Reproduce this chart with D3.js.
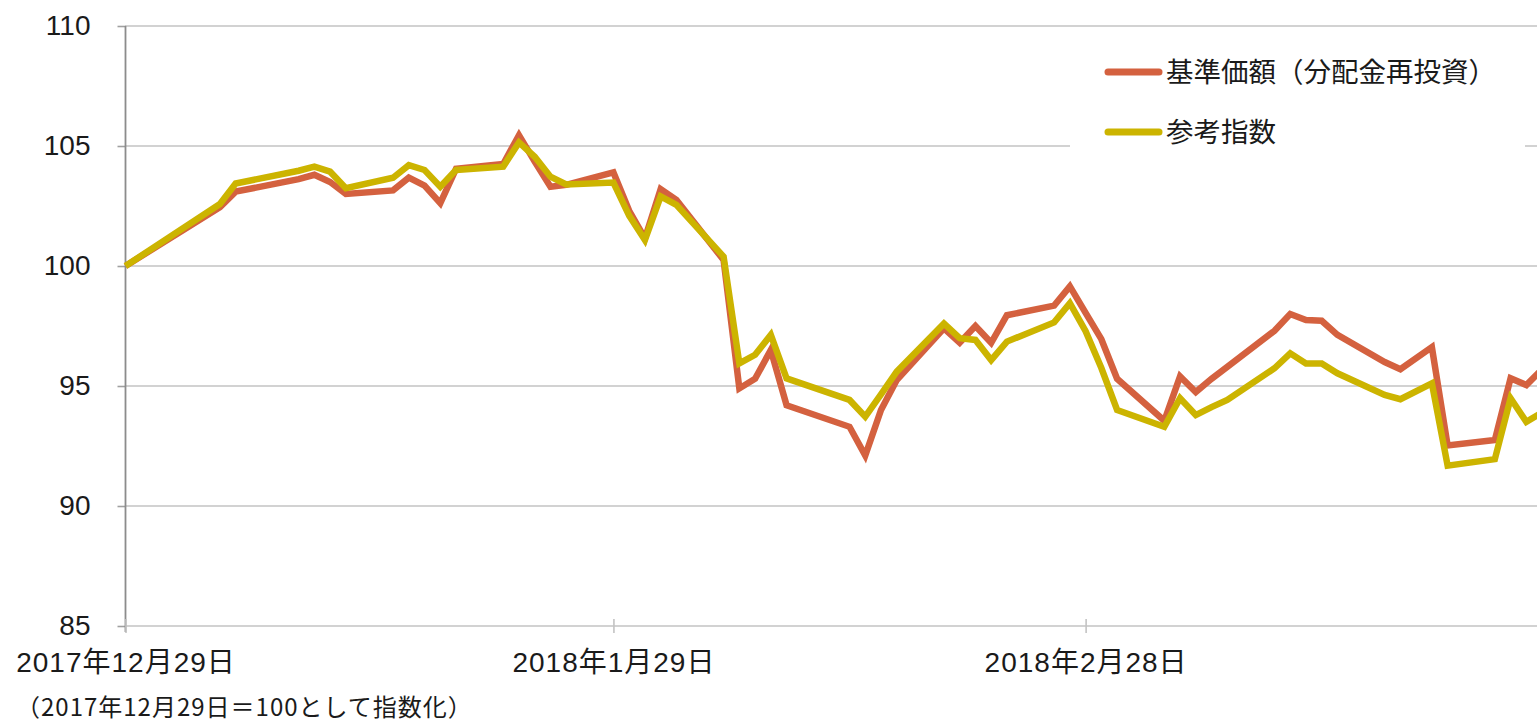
<!DOCTYPE html>
<html lang="ja">
<head>
  <meta charset="UTF-8">
  <title>基準価額と参考指数の推移</title>
  <script src="https://d3js.org/d3.v7.min.js"></script>
  <style>
    html, body { margin: 0; padding: 0; background: #fff; }
    svg { display: block; }
    .tick text { font-family: "Liberation Sans", "Noto Sans CJK JP", sans-serif; fill: #1a1a1a; }
    .legend-label, .note { font-family: "Noto Sans CJK JP", sans-serif; fill: #1a1a1a; }
  </style>
</head>
<body>
<div id="chart"></div>
<script>
  // trading days, Dec 29 2017 = 100
  const dates = [
    "2017-12-29", "2018-01-04", "2018-01-05", "2018-01-09", "2018-01-10", "2018-01-11", "2018-01-12",
    "2018-01-15", "2018-01-16", "2018-01-17", "2018-01-18", "2018-01-19", "2018-01-22", "2018-01-23",
    "2018-01-24", "2018-01-25", "2018-01-26", "2018-01-29", "2018-01-30", "2018-01-31", "2018-02-01",
    "2018-02-02", "2018-02-05", "2018-02-06", "2018-02-07", "2018-02-08", "2018-02-09", "2018-02-13",
    "2018-02-14", "2018-02-15", "2018-02-16", "2018-02-19", "2018-02-20", "2018-02-21", "2018-02-22",
    "2018-02-23", "2018-02-26", "2018-02-27", "2018-02-28", "2018-03-01", "2018-03-02", "2018-03-05",
    "2018-03-06", "2018-03-07", "2018-03-08", "2018-03-09", "2018-03-12", "2018-03-13", "2018-03-14",
    "2018-03-15", "2018-03-16", "2018-03-19", "2018-03-20", "2018-03-22", "2018-03-23", "2018-03-26",
    "2018-03-27", "2018-03-28", "2018-03-29"
  ];
  const fundValues = [
    100, 102.45, 103.1, 103.62, 103.8, 103.5, 103.0,
    103.15, 103.68, 103.35, 102.62, 104.05, 104.25, 105.45,
    104.35, 103.3, 103.38, 103.9, 102.3, 101.15, 103.2,
    102.75, 100.25, 94.9, 95.3, 96.5, 94.2, 93.3,
    92.1, 94.0, 95.25, 97.4, 96.8, 97.5, 96.8,
    97.95, 98.35, 99.15, 98.05, 96.95, 95.3, 93.55,
    95.4, 94.75, 95.3, 95.8, 97.3, 98.0, 97.75,
    97.72, 97.13, 96.0, 95.7, 96.62, 92.52, 92.75,
    95.32, 95.04, 95.7
  ];
  const indexValues = [
    100, 102.58, 103.44, 103.97, 104.14, 103.93, 103.24,
    103.68, 104.2, 104.0, 103.3, 104.0, 104.14, 105.15,
    104.55, 103.72, 103.4, 103.48, 102.1, 101.08, 102.9,
    102.55, 100.39, 95.94, 96.3, 97.13, 95.32, 94.42,
    93.72, 94.65, 95.6, 97.6, 96.99, 96.92, 96.08,
    96.85, 97.65, 98.45, 97.28, 95.75, 94.0, 93.3,
    94.49, 93.79, 94.12, 94.42, 95.74, 96.36, 95.94,
    95.94, 95.53, 94.63, 94.45, 95.11, 91.68, 91.95,
    94.49, 93.51, 93.9
  ];
  const seriesNames = ["基準価額（分配金再投資）", "参考指数"];
  const seriesColors = ["#d4613f", "#ccb400"];
  const yTicks = [85, 90, 95, 100, 105, 110];
  const xTickDates = ["2017-12-29", "2018-01-29", "2018-02-28"];
  const xTickLabels = ["2017年12月29日", "2018年1月29日", "2018年2月28日"];
  const noteText = "（2017年12月29日＝100として指数化）";

  const W = 1537, H = 726;
  const parse = d3.utcParse("%Y-%m-%d");

  const svg = d3.select("#chart").append("svg")
    .attr("width", W)
    .attr("height", H);

  // chart runs past the right edge of the picture
  const x = d3.scaleUtc()
    .domain([parse("2017-12-29"), parse("2018-03-30")])
    .range([125.5, 1557.8]);
  const y = d3.scaleLinear().domain([85, 110]).range([626, 26]);

  // gridlines
  svg.append("g")
    .selectAll("line")
    .data(yTicks)
    .join("line")
    .attr("x1", 125).attr("x2", W)
    .attr("y1", d => y(d)).attr("y2", d => y(d))
    .attr("stroke", "#c3c3c3")
    .attr("stroke-width", 1.6);

  // y axis
  const yAxis = svg.append("g")
    .attr("transform", "translate(125.5,0)")
    .call(d3.axisLeft(y).tickValues(yTicks).tickSize(8).tickPadding(27).tickFormat(d3.format("d")));
  yAxis.select(".domain").remove();
  yAxis.selectAll(".tick line").attr("stroke", "#a0a0a0").attr("stroke-width", 1.6);
  yAxis.selectAll(".tick text").style("font-size", "28px").attr("dy", "0.3em");
  svg.append("line")
    .attr("x1", 125.5).attr("x2", 125.5)
    .attr("y1", y(110)).attr("y2", y(85) + 6)
    .attr("stroke", "#8c8c8c")
    .attr("stroke-width", 1.8);

  // x axis
  const xAxis = svg.append("g")
    .attr("transform", `translate(0,${y(85)})`)
    .call(d3.axisBottom(x)
      .tickValues(xTickDates.map(parse))
      .tickSize(7)
      .tickFormat((d, i) => xTickLabels[i]));
  xAxis.select(".domain").remove();
  xAxis.selectAll(".tick line").attr("y1", -7).attr("stroke", "#c3c3c3").attr("stroke-width", 1.6);
  xAxis.selectAll(".tick text")
    .style("font-size", "28px")
    .style("letter-spacing", "1px")
    .attr("y", 46)
    .attr("dy", 0);

  // series, index drawn on top
  const line = d3.line()
    .x((d, i) => x(parse(dates[i])))
    .y(d => y(d));

  [fundValues, indexValues].forEach((vals, k) => {
    svg.append("path")
      .datum(vals)
      .attr("fill", "none")
      .attr("stroke", seriesColors[k])
      .attr("stroke-width", 6.5)
      .attr("stroke-linejoin", "miter")
      .attr("d", line);
  });

  // legend
  const legend = svg.append("g");
  legend.append("rect")
    .attr("x", 1070).attr("y", 42)
    .attr("width", 455).attr("height", 110)
    .attr("fill", "#fff");
  seriesNames.forEach((name, i) => {
    const ly = 72 + i * 60;
    legend.append("line")
      .attr("x1", 1108).attr("x2", 1159)
      .attr("y1", ly).attr("y2", ly)
      .attr("stroke", seriesColors[i])
      .attr("stroke-width", 7)
      .attr("stroke-linecap", "round");
    legend.append("text")
      .attr("class", "legend-label")
      .attr("x", 1166).attr("y", ly + 10)
      .style("font-size", "27.5px")
      .text(name);
  });

  // note under the axis
  svg.append("text")
    .attr("class", "note")
    .attr("x", 16).attr("y", 716)
    .style("font-size", "24px")
    .style("letter-spacing", "1px")
    .text(noteText);
</script>
</body>
</html>
